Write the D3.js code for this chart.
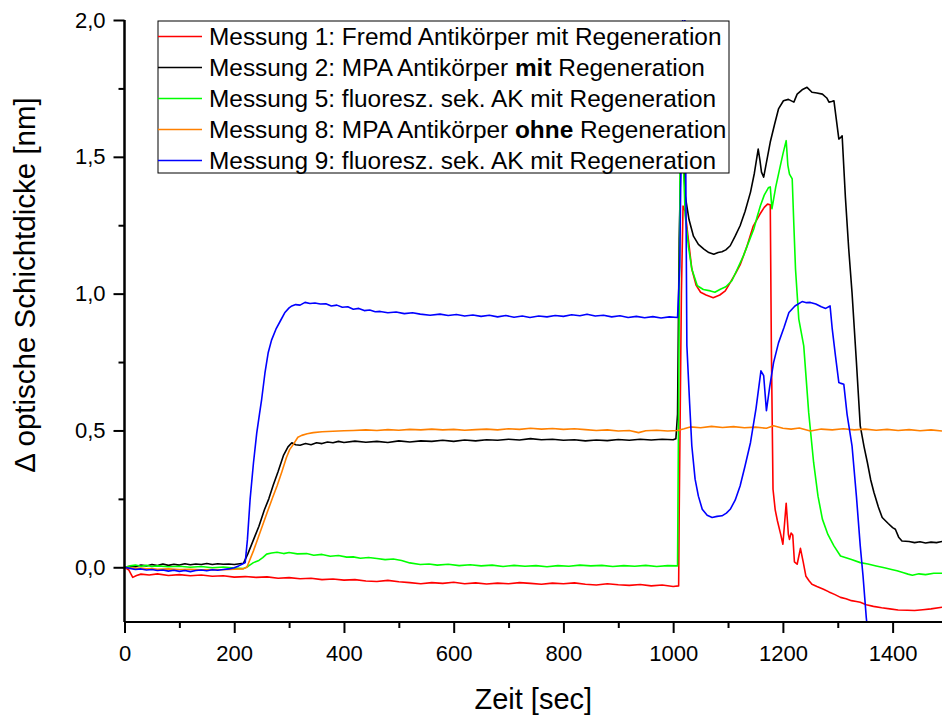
<!DOCTYPE html>
<html>
<head>
<meta charset="utf-8">
<script src="https://cdn.jsdelivr.net/npm/d3@7"></script>
<style>
  html, body { margin: 0; padding: 0; background: #fff; }
  svg { display: block; font-family: "Liberation Sans", Arial, sans-serif; }
</style>
</head>
<body>
<svg id="chart" width="942" height="715"></svg>
<script>
// ---------- DATA ----------
const xMajorTicks = [0, 200, 400, 600, 800, 1000, 1200, 1400];
const xMinorTicks = [100, 300, 500, 700, 900, 1100, 1300];
const yMajorTicks = [0, 0.5, 1.0, 1.5, 2.0];
const yMinorTicks = [0.25, 0.75, 1.25, 1.75];
const xTitle = "Zeit [sec]";
const yTitle = "Δ optische Schichtdicke [nm]";

const seriesNames = [
  ["Messung 1: Fremd Antikörper mit Regeneration"],
  ["Messung 2: MPA Antikörper ", "mit", " Regeneration"],
  ["Messung 5: fluoresz. sek. AK mit Regeneration"],
  ["Messung 8: MPA Antikörper ", "ohne", " Regeneration"],
  ["Messung 9: fluoresz. sek. AK mit Regeneration"]
];
const seriesColors = ["#ff0000", "#000000", "#00ff00", "#ff8000", "#0000ff"];

const messung1 = [[0,0],[8,-0.01],[15,-0.037],[22,-0.03],[30,-0.025],[45,-0.028],[60,-0.024],[80,-0.03],[100,-0.027],[120,-0.031],[140,-0.028],[160,-0.033],[180,-0.031],[200,-0.036],[220,-0.034],[240,-0.037],[260,-0.035],[280,-0.04],[300,-0.038],[320,-0.042],[340,-0.04],[360,-0.045],[380,-0.043],[400,-0.047],[420,-0.045],[440,-0.05],[460,-0.052],[480,-0.048],[500,-0.053],[520,-0.056],[540,-0.06],[560,-0.056],[580,-0.059],[600,-0.055],[620,-0.06],[640,-0.057],[660,-0.061],[680,-0.058],[700,-0.06],[720,-0.056],[740,-0.059],[760,-0.062],[780,-0.058],[800,-0.06],[820,-0.057],[840,-0.062],[860,-0.065],[880,-0.06],[900,-0.064],[920,-0.066],[940,-0.063],[960,-0.068],[980,-0.065],[1000,-0.07],[1010,-0.068],[1011,0.2],[1015,1.0],[1018,1.32],[1022,1.3],[1027,1.21],[1034,1.09],[1042,1.03],[1050,1.005],[1060,0.995],[1073,0.985],[1085,0.995],[1095,1.01],[1104,1.04],[1114,1.075],[1122,1.105],[1134,1.17],[1146,1.247],[1158,1.29],[1166,1.315],[1172,1.327],[1177,1.325],[1179,0.8],[1182,0.285],[1186,0.21],[1190,0.17],[1196,0.12],[1200,0.084],[1206,0.234],[1210,0.12],[1212,0.102],[1215,0.125],[1218,0.118],[1221,0.02],[1226,0.011],[1232,0.069],[1237,0.02],[1242,-0.033],[1248,-0.05],[1253,-0.062],[1262,-0.07],[1274,-0.08],[1284,-0.09],[1295,-0.1],[1305,-0.11],[1315,-0.115],[1325,-0.122],[1334,-0.125],[1341,-0.128],[1352,-0.137],[1365,-0.143],[1380,-0.148],[1395,-0.152],[1410,-0.156],[1427,-0.157],[1440,-0.158],[1455,-0.155],[1470,-0.152],[1490,-0.146]];

const messung2 = [[0,0],[10,0.004],[20,0.002],[30,0.008],[40,0.005],[50,0.01],[60,0.006],[70,0.012],[80,0.007],[90,0.011],[100,0.008],[110,0.013],[120,0.009],[130,0.012],[140,0.01],[150,0.014],[160,0.01],[170,0.013],[180,0.011],[190,0.012],[200,0.01],[210,0.013],[217,0.015],[225,0.05],[235,0.1],[245,0.15],[255,0.21],[263,0.25],[271,0.3],[280,0.35],[290,0.41],[298,0.44],[305,0.455],[312,0.448],[320,0.446],[330,0.452],[340,0.448],[350,0.455],[360,0.452],[370,0.458],[380,0.455],[390,0.46],[400,0.456],[420,0.461],[440,0.457],[460,0.46],[480,0.456],[500,0.462],[520,0.458],[540,0.462],[560,0.46],[580,0.464],[600,0.46],[620,0.465],[640,0.462],[660,0.466],[680,0.464],[700,0.468],[720,0.465],[740,0.47],[760,0.466],[780,0.468],[800,0.464],[820,0.466],[840,0.462],[860,0.465],[880,0.463],[900,0.467],[920,0.464],[940,0.468],[960,0.465],[980,0.468],[1000,0.466],[1005,0.47],[1008,0.56],[1011,1.2],[1015,1.6],[1018,1.55],[1022,1.357],[1029,1.27],[1037,1.21],[1046,1.18],[1056,1.163],[1065,1.15],[1074,1.144],[1082,1.15],[1089,1.153],[1096,1.16],[1104,1.175],[1113,1.21],[1122,1.248],[1131,1.3],[1141,1.371],[1148,1.44],[1155,1.528],[1158,1.49],[1161,1.444],[1165,1.426],[1171,1.49],[1177,1.554],[1185,1.62],[1192,1.675],[1201,1.705],[1210,1.71],[1220,1.7],[1226,1.729],[1235,1.745],[1244,1.754],[1253,1.736],[1262,1.733],[1272,1.729],[1280,1.715],[1284,1.7],[1289,1.702],[1293,1.705],[1302,1.565],[1305,1.57],[1308,1.577],[1314,1.35],[1320,1.163],[1326,1.004],[1334,0.75],[1341,0.517],[1348,0.44],[1354,0.383],[1360,0.32],[1366,0.273],[1374,0.22],[1381,0.182],[1392,0.16],[1400,0.145],[1405,0.139],[1411,0.11],[1417,0.096],[1430,0.094],[1440,0.09],[1450,0.093],[1460,0.089],[1470,0.092],[1480,0.09],[1490,0.094]];

const messung5 = [[0,0],[10,0.005],[20,0.008],[30,0.004],[40,0.007],[50,0.003],[60,0.005],[80,0.002],[100,0.004],[120,0.0],[140,0.003],[160,-0.002],[180,0.001],[200,-0.003],[217,-0.005],[225,0.003],[235,0.017],[245,0.025],[252,0.035],[259,0.048],[268,0.052],[278,0.055],[290,0.05],[300,0.054],[315,0.049],[332,0.05],[345,0.044],[360,0.047],[375,0.04],[390,0.043],[405,0.037],[417,0.038],[430,0.033],[445,0.036],[460,0.032],[475,0.028],[490,0.03],[505,0.025],[520,0.016],[539,0.01],[555,0.012],[570,0.008],[590,0.011],[610,0.006],[630,0.009],[650,0.005],[670,0.008],[690,0.003],[710,0.007],[730,0.004],[750,0.006],[770,0.002],[790,0.006],[810,0.004],[830,0.008],[850,0.005],[870,0.007],[890,0.003],[910,0.006],[930,0.004],[950,0.007],[970,0.003],[990,0.006],[1008,0.005],[1010,0.6],[1013,1.6],[1016,1.6],[1019,1.45],[1022,1.285],[1028,1.17],[1034,1.09],[1044,1.029],[1055,1.015],[1068,1.01],[1076,1.005],[1086,1.016],[1096,1.025],[1107,1.047],[1117,1.09],[1128,1.138],[1138,1.19],[1147,1.236],[1153,1.28],[1159,1.321],[1166,1.36],[1174,1.388],[1177,1.39],[1180,1.31],[1187,1.39],[1194,1.455],[1200,1.51],[1206,1.559],[1209,1.47],[1212,1.437],[1217,1.419],[1220,1.25],[1223,1.09],[1229,0.907],[1238,0.809],[1247,0.566],[1256,0.383],[1264,0.26],[1272,0.176],[1282,0.12],[1293,0.078],[1305,0.041],[1315,0.035],[1325,0.028],[1341,0.017],[1355,0.012],[1370,0.005],[1385,-0.002],[1398,-0.008],[1408,-0.013],[1420,-0.02],[1428,-0.025],[1436,-0.029],[1448,-0.024],[1460,-0.027],[1475,-0.022],[1490,-0.022]];

const messung8 = [[0,0],[10,-0.002],[20,-0.004],[30,-0.003],[40,-0.006],[50,-0.005],[60,-0.007],[80,-0.006],[100,-0.008],[120,-0.007],[140,-0.009],[160,-0.008],[180,-0.009],[200,-0.007],[215,-0.006],[223,0.0],[235,0.06],[247,0.127],[260,0.2],[270,0.255],[278,0.297],[287,0.35],[295,0.4],[301,0.43],[308,0.45],[316,0.475],[323,0.482],[333,0.488],[344,0.492],[360,0.495],[380,0.497],[400,0.499],[417,0.5],[440,0.502],[460,0.5],[480,0.503],[500,0.501],[520,0.504],[540,0.502],[560,0.505],[580,0.502],[600,0.504],[620,0.501],[640,0.503],[660,0.505],[680,0.502],[700,0.506],[720,0.504],[740,0.508],[760,0.505],[780,0.507],[800,0.504],[820,0.506],[840,0.503],[860,0.5],[880,0.502],[900,0.498],[920,0.5],[937,0.492],[950,0.499],[970,0.501],[990,0.498],[1008,0.5],[1020,0.506],[1031,0.513],[1050,0.51],[1070,0.515],[1090,0.511],[1110,0.514],[1130,0.51],[1150,0.512],[1170,0.508],[1183,0.517],[1200,0.508],[1215,0.505],[1230,0.509],[1250,0.498],[1270,0.505],[1290,0.502],[1310,0.506],[1330,0.502],[1350,0.505],[1370,0.501],[1390,0.504],[1410,0.5],[1430,0.503],[1450,0.499],[1470,0.502],[1490,0.498]];

const messung9 = [[0,0],[10,-0.004],[20,-0.008],[30,-0.006],[40,-0.01],[50,-0.008],[60,-0.012],[70,-0.01],[80,-0.014],[90,-0.011],[100,-0.015],[110,-0.012],[120,-0.016],[130,-0.012],[140,-0.01],[150,-0.013],[160,-0.009],[170,-0.011],[180,-0.008],[190,-0.006],[200,-0.002],[208,0.005],[215,0.012],[220,0.017],[224,0.1],[229,0.25],[235,0.38],[241,0.49],[246,0.56],[250,0.614],[256,0.71],[262,0.785],[268,0.83],[276,0.87],[284,0.9],[292,0.93],[300,0.948],[305,0.955],[312,0.96],[320,0.958],[329,0.968],[338,0.964],[347,0.966],[357,0.962],[367,0.963],[377,0.955],[387,0.958],[397,0.95],[407,0.952],[417,0.943],[427,0.946],[437,0.938],[447,0.94],[457,0.934],[466,0.935],[480,0.93],[495,0.933],[510,0.927],[525,0.93],[539,0.925],[557,0.921],[575,0.925],[590,0.92],[605,0.924],[620,0.918],[635,0.922],[650,0.917],[665,0.921],[680,0.915],[695,0.92],[710,0.914],[725,0.918],[739,0.913],[755,0.918],[770,0.915],[785,0.92],[800,0.917],[815,0.923],[830,0.919],[843,0.925],[858,0.918],[873,0.921],[888,0.915],[903,0.919],[918,0.913],[933,0.917],[948,0.912],[963,0.916],[978,0.911],[993,0.915],[1008,0.913],[1012,1.1],[1018,2.1],[1021,2.1],[1025,0.81],[1030,0.6],[1034,0.444],[1040,0.322],[1046,0.26],[1053,0.212],[1062,0.19],[1071,0.182],[1080,0.186],[1089,0.188],[1097,0.198],[1104,0.212],[1113,0.245],[1122,0.297],[1131,0.37],[1141,0.456],[1151,0.58],[1160,0.718],[1165,0.7],[1170,0.572],[1176,0.66],[1183,0.748],[1192,0.82],[1202,0.876],[1211,0.931],[1222,0.955],[1235,0.971],[1243,0.967],[1250,0.968],[1260,0.962],[1270,0.952],[1278,0.946],[1286,0.955],[1290,0.87],[1296,0.77],[1302,0.675],[1306,0.672],[1311,0.669],[1317,0.559],[1326,0.444],[1334,0.26],[1341,0.078],[1346,-0.03],[1352,-0.184],[1358,-0.3]];

const seriesData = [messung1, messung2, messung5, messung8, messung9];

// ---------- LAYOUT ----------
const svg = d3.select("#chart");
const plot = { left: 124.5, right: 942, top: 20, bottom: 622 };

const x = d3.scaleLinear().domain([0, 1490]).range([plot.left, plot.right]);
const y = d3.scaleLinear().domain([-0.2, 2.0]).range([plot.bottom, plot.top]);
const fmt = v => d3.format(".1f")(v).replace(".", ",");

svg.append("defs").append("clipPath").attr("id", "clip")
  .append("rect")
  .attr("x", plot.left).attr("y", plot.top)
  .attr("width", plot.right - plot.left).attr("height", plot.bottom - plot.top);

// lines
const line = d3.line().x(d => x(d[0])).y(d => y(d[1]));
const lineG = svg.append("g").attr("clip-path", "url(#clip)");
seriesData.forEach((s, i) => {
  lineG.append("path")
    .datum(s)
    .attr("d", line)
    .attr("fill", "none")
    .attr("stroke", seriesColors[i])
    .attr("stroke-width", 1.6)
    .attr("stroke-linejoin", "round");
});

// axes
const axisFont = 22;
const yAxis = svg.append("g").attr("transform", `translate(${plot.left},0)`)
  .call(d3.axisLeft(y).tickValues(yMajorTicks).tickFormat(fmt).tickSize(11).tickPadding(8));
const yMinor = svg.append("g").attr("transform", `translate(${plot.left},0)`)
  .call(d3.axisLeft(y).tickValues(yMinorTicks).tickFormat("").tickSize(6));
const xAxis = svg.append("g").attr("transform", `translate(0,${plot.bottom})`)
  .call(d3.axisBottom(x).tickValues(xMajorTicks).tickFormat(d3.format("d")).tickSize(11).tickPadding(12));
const xMinor = svg.append("g").attr("transform", `translate(0,${plot.bottom})`)
  .call(d3.axisBottom(x).tickValues(xMinorTicks).tickFormat("").tickSize(6));

[yAxis, yMinor, xAxis, xMinor].forEach(g => {
  g.selectAll(".domain").attr("stroke", "#000").attr("stroke-width", 2);
  g.selectAll(".tick line").attr("stroke", "#000").attr("stroke-width", 2);
  g.selectAll(".tick text").attr("font-size", axisFont).attr("fill", "#000")
    .attr("font-family", "Liberation Sans, Arial, sans-serif");
});
[yAxis, yMinor].forEach(g => g.select(".domain").attr("d", `M0,${plot.top}V${plot.bottom}`));
[xAxis, xMinor].forEach(g => g.select(".domain").attr("d", `M${plot.left},0H${plot.right}`));

// axis titles
svg.append("text")
  .attr("x", (plot.left + plot.right) / 2).attr("y", 709)
  .attr("text-anchor", "middle").attr("font-size", 29).attr("fill", "#000")
  .text(xTitle);
svg.append("text")
  .attr("transform", `translate(35,285) rotate(-90)`)
  .attr("text-anchor", "middle").attr("font-size", 29.5).attr("fill", "#000")
  .text(yTitle);

// legend
const leg = svg.append("g");
leg.append("rect")
  .attr("x", 158).attr("y", 21).attr("width", 571).attr("height", 152)
  .attr("fill", "#fff").attr("stroke", "#000").attr("stroke-width", 1);
seriesNames.forEach((parts, i) => {
  const cy = 36.5 + i * 31;
  leg.append("line")
    .attr("x1", 158).attr("x2", 202).attr("y1", cy).attr("y2", cy)
    .attr("stroke", seriesColors[i]).attr("stroke-width", 1.6);
  const t = leg.append("text").attr("x", 209).attr("y", cy + 8.5)
    .attr("font-size", 24.4).attr("fill", "#000");
  parts.forEach((p, j) => {
    t.append("tspan").attr("font-weight", j === 1 ? "bold" : "normal").text(p);
  });
});
</script>
</body>
</html>
